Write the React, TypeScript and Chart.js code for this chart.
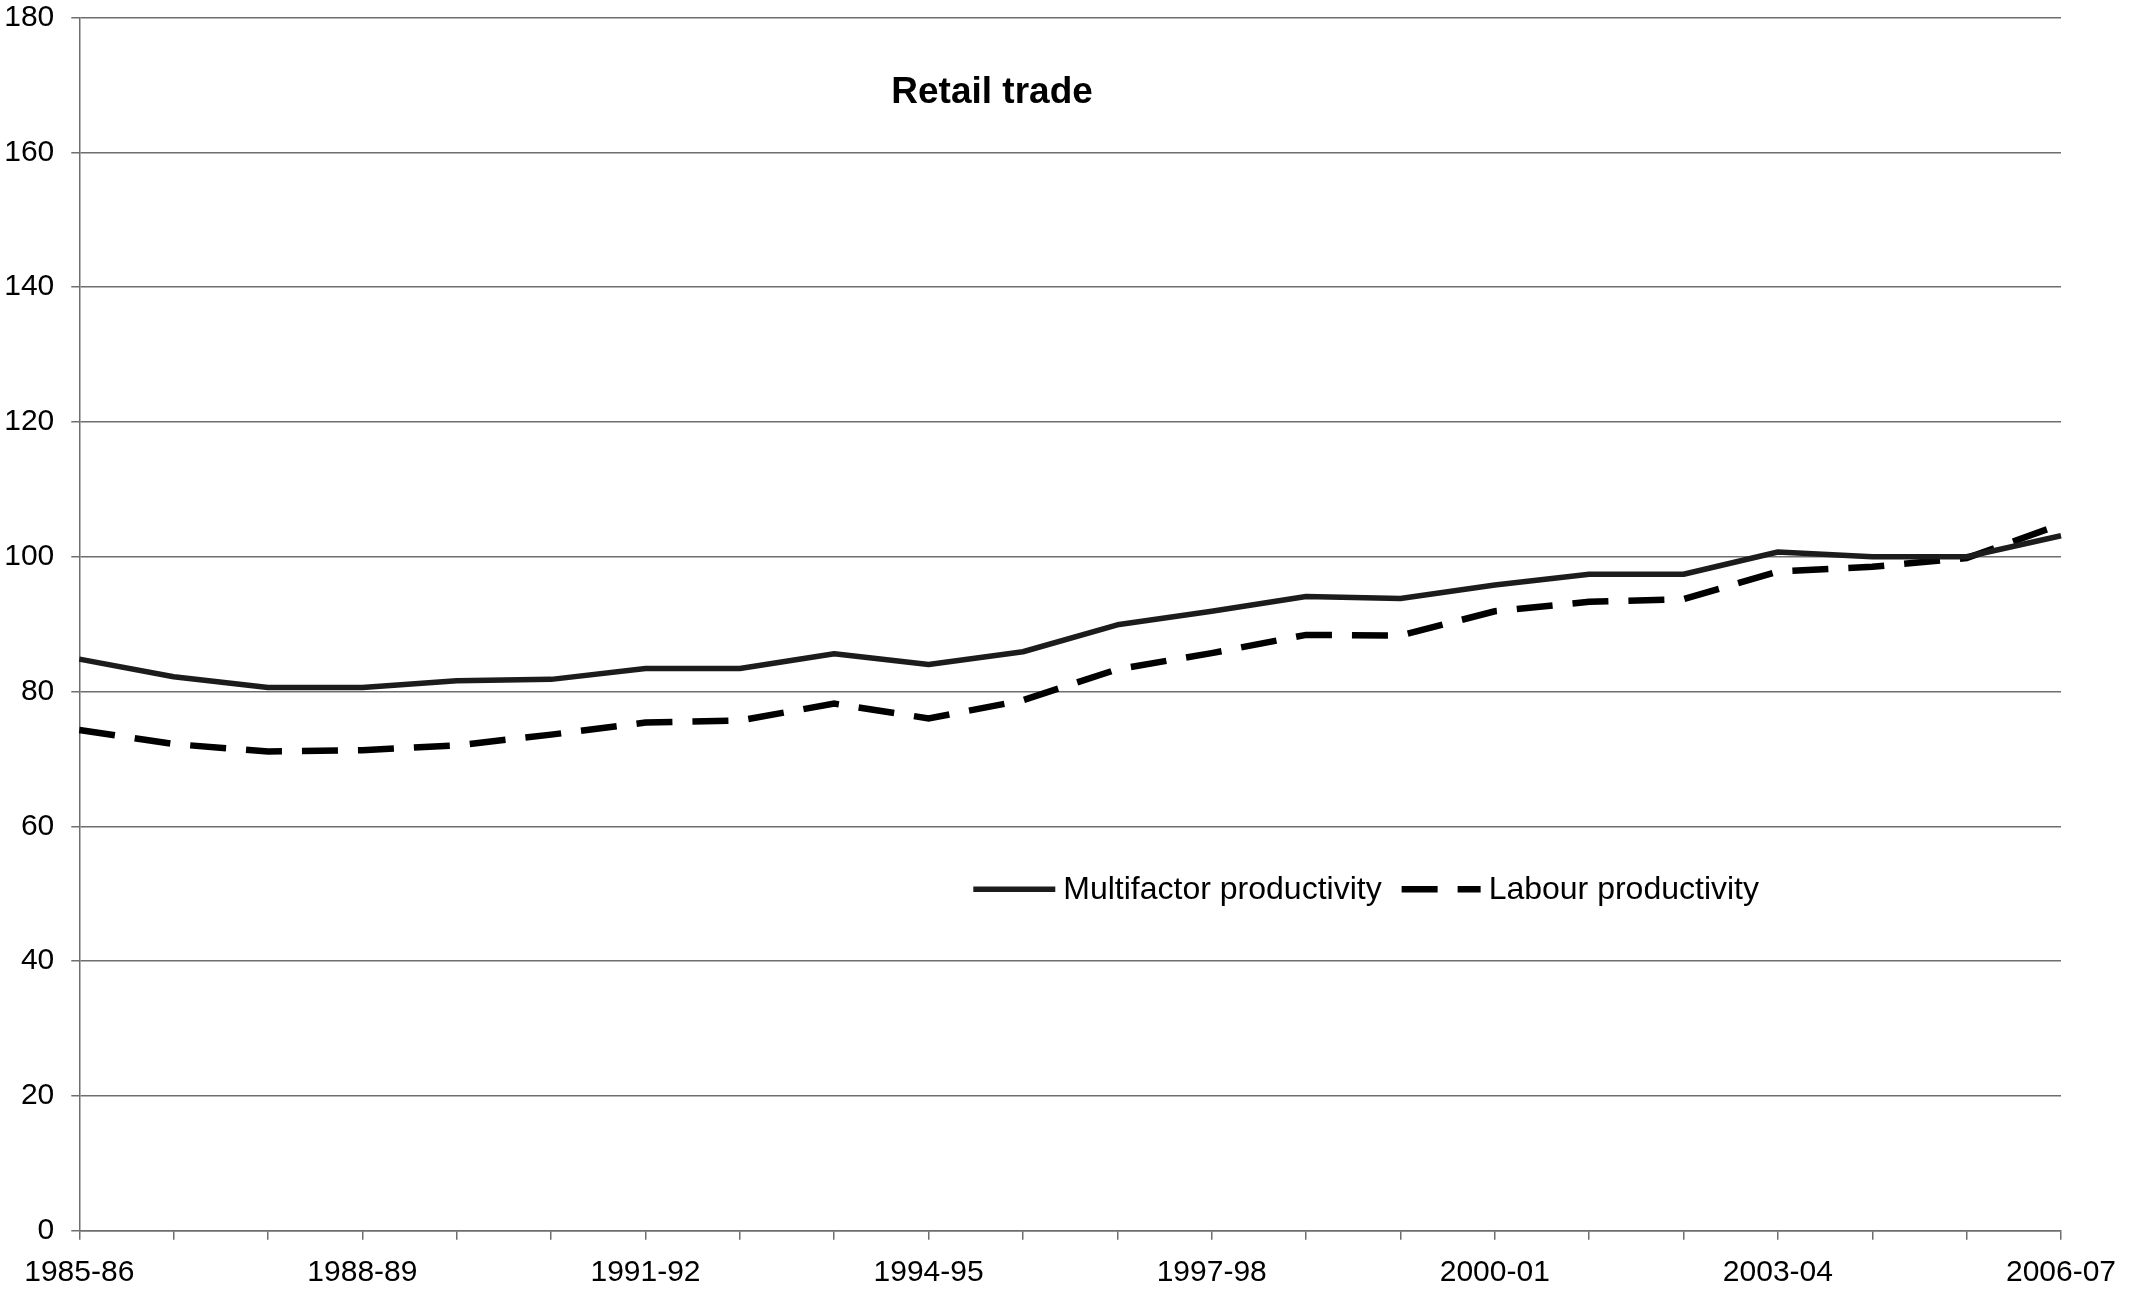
import React, { useEffect, useRef } from "react";
import { Chart, registerables } from "chart.js";

Chart.register(...registerables);

const categories = [
  "1985-86", "1986-87", "1987-88", "1988-89", "1989-90", "1990-91", "1991-92", "1992-93",
  "1993-94", "1994-95", "1995-96", "1996-97", "1997-98", "1998-99", "1999-00", "2000-01",
  "2001-02", "2002-03", "2003-04", "2004-05", "2005-06", "2006-07",
];
const multifactor = [84.8, 82.2, 80.6, 80.6, 81.6, 81.8, 83.4, 83.4, 85.6, 84.0, 85.9, 89.9, 91.9, 94.1, 93.8, 95.8, 97.4, 97.4, 100.7, 100.0, 100.0, 103.1];
const labour = [74.3, 72.2, 71.1, 71.3, 72.0, 73.6, 75.4, 75.7, 78.2, 76.0, 78.7, 83.3, 85.7, 88.4, 88.3, 91.9, 93.3, 93.7, 97.8, 98.5, 99.8, 104.8];
const seriesNames = ["Multifactor productivity", "Labour productivity"];
const chartTitle = "Retail trade";
const yTicks = [0, 20, 40, 60, 80, 100, 120, 140, 160, 180];

const FONT = '"Liberation Sans", Arial, sans-serif';
const W = 2143;
const H = 1294;

const overlayPlugin = {
  id: "overlay",
  afterDraw(chart: any) {
    const ctx = chart.ctx;
    const area = chart.chartArea;
    ctx.save();
    // title
    ctx.fillStyle = "#000";
    ctx.font = `bold 37px ${FONT}`;
    ctx.textAlign = "left";
    ctx.textBaseline = "alphabetic";
    ctx.fillText(chartTitle, area.left + 812, area.top + 85.5);

    // legend
    const ds = chart.data.datasets;
    const lineY = area.top + 871.8;
    const baseY = area.top + 881.8;
    ctx.font = `32px ${FONT}`;
    let x = area.left + 894;
    for (let i = 0; i < ds.length; i++) {
      const d = ds[i];
      const len = i === 0 ? 82 : 79;
      ctx.beginPath();
      ctx.strokeStyle = d.borderColor;
      ctx.lineWidth = d.borderWidth;
      ctx.lineCap = "butt";
      ctx.setLineDash(d.borderDash || []);
      ctx.moveTo(x, lineY);
      ctx.lineTo(x + len, lineY);
      ctx.stroke();
      ctx.setLineDash([]);
      x += len + 8;
      ctx.fillStyle = "#000";
      ctx.fillText(d.label, x, baseY);
      x += ctx.measureText(d.label).width + 20;
    }
    ctx.restore();
  },
};

export default function App() {
  const ref = useRef<HTMLCanvasElement | null>(null);
  useEffect(() => {
    document.body.style.margin = "0";
    document.body.style.overflow = "hidden";
    if (!ref.current) return;
    const chart = new Chart(ref.current, {
      type: "line",
      data: {
        labels: categories,
        datasets: [
          {
            label: seriesNames[0],
            data: multifactor,
            borderColor: "#1c1c1c",
            borderWidth: 5.5,
            pointRadius: 0,
            tension: 0,
            fill: false,
            borderJoinStyle: "round",
          },
          {
            label: seriesNames[1],
            data: labour,
            borderColor: "#000000",
            borderWidth: 6.5,
            borderDash: [36, 20],
            pointRadius: 0,
            tension: 0,
            fill: false,
          },
        ],
      },
      options: {
        responsive: false,
        animation: false,
        devicePixelRatio: 1,
        layout: { padding: { top: 17.5, right: 82, left: 0, bottom: 0 } },
        plugins: {
          legend: { display: false },
          title: { display: false },
          tooltip: { enabled: false },
        },
        scales: {
          x: {
            type: "category",
            offset: false,
            grid: {
              display: true,
              drawOnChartArea: false,
              drawTicks: true,
              tickLength: 9,
              color: "#6e6e6e",
              lineWidth: 1.5,
            },
            border: { display: true, color: "#6e6e6e", width: 1.5 },
            ticks: {
              autoSkip: false,
              maxRotation: 0,
              minRotation: 0,
              padding: 15,
              color: "#000",
              font: { family: FONT, size: 30 },
              callback: (_v: any, i: number) => (i % 3 === 0 ? categories[i] : ""),
            },
            afterFit: (s: any) => {
              s.height = H - 1230.7;
              s.paddingLeft = 0;
              s.paddingRight = 0;
            },
          },
          y: {
            min: 0,
            max: 180,
            afterBuildTicks: (s: any) => {
              s.ticks = yTicks.map((v) => ({ value: v }));
            },
            grid: {
              color: "#6e6e6e",
              lineWidth: 1.5,
              drawTicks: true,
              tickLength: 8,
            },
            border: { display: true, color: "#6e6e6e", width: 1.5 },
            ticks: {
              padding: 17,
              color: "#000",
              font: { family: FONT, size: 30 },
            },
            afterFit: (s: any) => {
              s.width = 79.3;
              s.paddingTop = 0;
              s.paddingBottom = 0;
            },
          },
        },
      },
      plugins: [overlayPlugin],
    } as any);
    return () => chart.destroy();
  }, []);
  return (
    <div style={{ width: W, height: H }}>
      <canvas ref={ref} width={W} height={H} style={{ display: "block", width: W, height: H }} />
    </div>
  );
}
